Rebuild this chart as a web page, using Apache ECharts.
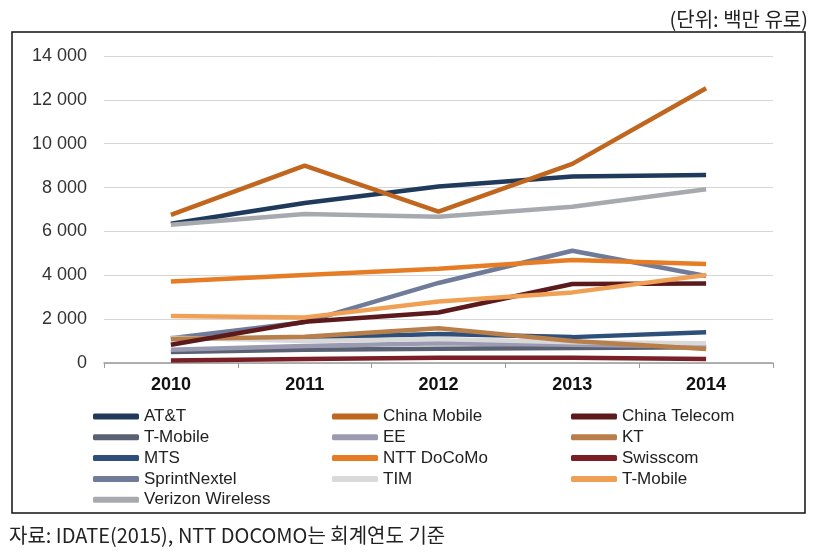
<!DOCTYPE html>
<html><head><meta charset="utf-8">
<script src="https://cdn.jsdelivr.net/npm/echarts@6/dist/echarts.min.js"></script>
<style>html,body{margin:0;padding:0;background:#fff}#c{width:829px;height:555px}</style>
</head><body><div id="c"></div>
<script>
const years = ['2010', '2011', '2012', '2013', '2014'];
const yTicks = [0, 2000, 4000, 6000, 8000, 10000, 12000, 14000];

const attValues = [6350, 7300, 8050, 8500, 8570];
const chinaMobileValues = [6750, 9000, 6900, 9080, 12530];
const chinaTelecomValues = [830, 1880, 2300, 3600, 3630];
const tMobileValues = [500, 600, 650, 680, 720];
const eeValues = [600, 780, 900, 830, 760];
const ktValues = [1100, 1200, 1580, 1000, 640];
const mtsValues = [1100, 1150, 1320, 1180, 1400];
const nttValues = [3720, 4010, 4300, 4700, 4510];
const swisscomValues = [110, 180, 240, 240, 180];
const sprintValues = [1130, 1860, 3650, 5120, 3970];
const timValues = [1150, 1000, 1100, 950, 900];
const tMobile2Values = [2140, 2080, 2800, 3220, 4010];
const verizonValues = [6300, 6790, 6670, 7130, 7920];

const seriesDefs = [
  {name: 'AT&T', data: attValues, color: '#1f3a5a'},
  {name: 'T-Mobile', data: tMobileValues, color: '#5a6172'},
  {name: 'MTS', data: mtsValues, color: '#2d4f7a'},
  {name: 'SprintNextel', data: sprintValues, color: '#6f7b98'},
  {name: 'Verizon Wireless', data: verizonValues, color: '#a6a9ae'},
  {name: 'EE', data: eeValues, color: '#9a9ab2'},
  {name: 'TIM', data: timValues, color: '#d9d9d9'},
  {name: 'KT', data: ktValues, color: '#b87f4a'},
  {name: 'Swisscom', data: swisscomValues, color: '#7a1f26'},
  {name: 'China Telecom', data: chinaTelecomValues, color: '#5c1a1c'},
  {name: 'T-Mobile #2', data: tMobile2Values, color: '#f0a055'},
  {name: 'NTT DoCoMo', data: nttValues, color: '#e67d24'},
  {name: 'China Mobile', data: chinaMobileValues, color: '#c0661f'}
];

const col1 = ['AT&T', 'T-Mobile', 'MTS', 'SprintNextel', 'Verizon Wireless'];
const col2 = ['China Mobile', 'EE', 'NTT DoCoMo', 'TIM'];
const col3 = ['China Telecom', 'KT', 'Swisscom', 'T-Mobile #2'];

function fmt(v){ return String(v).replace(/\B(?=(\d{3})+(?!\d))/g, ' '); }

const legendBase = {
  orient: 'vertical', top: 403, itemWidth: 46, itemHeight: 6, itemGap: 3.8,
  icon: 'roundRect',
  textStyle: {fontFamily: 'Liberation Sans, Arial', fontSize: 17, color: '#222', lineHeight: 17},
  formatter: n => n.replace(/ #2$/, '')
};

const chart = echarts.init(document.getElementById('c'));
chart.setOption({
  animation: false,
  backgroundColor: '#fff',
  title: [
    {text: '(단위: 백만 유로)', right: 16, top: 4,
     textStyle: {fontFamily: 'Noto Sans CJK KR', fontSize: 20, fontWeight: 'normal', color: '#222'}},
    {text: '자료: IDATE(2015), NTT DOCOMO는 회계연도 기준', left: 4, top: 520,
     textStyle: {fontFamily: 'Noto Sans CJK KR', fontSize: 20, fontWeight: 'normal', color: '#222'}}
  ],
  graphic: [
    {type: 'rect', shape: {x: 12, y: 32, width: 793, height: 481},
     style: {fill: 'none', stroke: '#111', lineWidth: 1.5}, silent: true}
  ],
  legend: [
    Object.assign({}, legendBase, {left: 88, data: col1}),
    Object.assign({}, legendBase, {left: 327, data: col2}),
    Object.assign({}, legendBase, {left: 566, data: col3})
  ],
  grid: {left: 104, right: 56, top: 56, bottom: 192, containLabel: false},
  xAxis: {
    type: 'category', data: years, boundaryGap: true,
    axisLine: {lineStyle: {color: '#9a9a9a', width: 1.5}},
    axisTick: {show: true, length: 5, lineStyle: {color: '#9a9a9a'}},
    axisLabel: {fontFamily: 'Liberation Sans, Arial', fontSize: 18, fontWeight: 'bold', color: '#111', margin: 13}
  },
  yAxis: {
    type: 'value', min: 0, max: 14000, interval: 2000,
    axisLine: {show: false}, axisTick: {show: false},
    splitLine: {lineStyle: {color: '#d6d6d6', width: 1}},
    axisLabel: {fontFamily: 'Liberation Sans, Arial', fontSize: 18, color: '#333', margin: 17,
      formatter: v => yTicks.includes(v) ? fmt(v) : ''}
  },
  series: seriesDefs.map(s => ({
    name: s.name, type: 'line', data: s.data, showSymbol: false, symbol: 'none',
    lineStyle: {width: 4.5, color: s.color}, itemStyle: {color: s.color}
  }))
});
</script></body></html>
